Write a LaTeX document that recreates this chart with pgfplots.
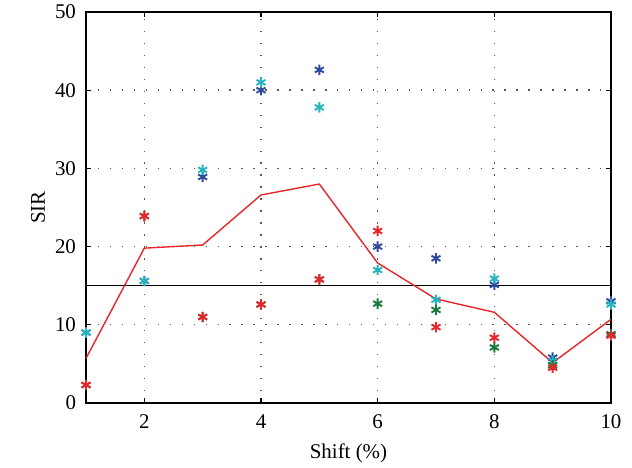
\documentclass[border=0pt]{standalone}
\usepackage{fontspec}
\setmainfont{Liberation Serif}
\usepackage{pgfplots}
\pgfplotsset{compat=1.18}
\definecolor{sred}{RGB}{232,38,42}
\definecolor{sblue}{RGB}{46,74,158}
\definecolor{scyan}{RGB}{38,181,192}
\definecolor{sgreen}{RGB}{26,122,58}
\begin{document}
\begin{tikzpicture}
\begin{axis}[
    name=main,
    scale only axis,
    width=262.5bp, height=195.5bp,
    xmin=1, xmax=10, ymin=0, ymax=50,
    xtick={2,4,6,8,10}, ytick={0,10,20,30,40,50},
    xlabel={Shift (\%)}, ylabel={SIR},
    xmajorgrids, ymajorgrids,
    grid style={black!65, dash pattern=on 0.7pt off 5.3pt, line width=0.7pt},
    tick align=inside,
    major tick length=2.5bp,
    axis line style={black, line width=0.6pt},
    tick style={black, line width=0.6pt},
    every tick label/.append style={font=\fontsize{10.5}{12}\selectfont},
    yticklabel style={xshift=-1.5bp},
    xticklabel style={yshift=-2.5bp},
    label style={font=\fontsize{10.5}{12}\selectfont},
    /pgf/number format/assume math mode=true,
    xlabel style={at={(rel axis cs:0.5,0)}, anchor=center, yshift=-25bp},
    ylabel style={at={(rel axis cs:0,0.5)}, anchor=center, yshift=24bp},
]
\addplot[sblue, only marks, mark=asterisk, mark size=2.6bp, line width=0.95pt] coordinates {
(1,9.0)(2,15.6)(3,28.9)(4,40.0)(5,42.6)(6,20.0)(7,18.5)(8,15.1)(9,5.8)(10,13.0)};
\addplot[scyan, only marks, mark=asterisk, mark size=2.6bp, line width=0.95pt] coordinates {
(1,9.0)(2,15.6)(3,29.8)(4,41.0)(5,37.8)(6,17.0)(7,13.2)(8,15.9)(9,5.4)(10,12.6)};
\addplot[sgreen, only marks, mark=asterisk, mark size=2.6bp, line width=0.95pt] coordinates {
(1,2.3)(2,23.9)(3,11.0)(4,12.6)(5,15.8)(6,12.7)(7,11.9)(8,7.1)(9,4.8)(10,8.8)};
\addplot[sred, only marks, mark=asterisk, mark size=2.6bp, line width=0.95pt] coordinates {
(1,2.3)(2,23.9)(3,11.0)(4,12.6)(5,15.8)(6,22.0)(7,9.7)(8,8.35)(9,4.5)(10,8.6)};
\addplot[black, line width=0.7pt, no marks] coordinates {(1,15)(10,15)};
\addplot[sred, line width=0.7pt, no marks] coordinates {
(1,5.7)(2,19.8)(3,20.2)(4,26.6)(5,28.0)(6,17.9)(7,13.3)(8,11.6)(9,5.15)(10,10.7)};
\end{axis}
\path (main.south west) ++(-43bp,-32.5bp) coordinate (bbA);
\path (main.north east) ++(10.5bp,6bp) coordinate (bbB);
\pgfresetboundingbox
\useasboundingbox (bbA) rectangle (bbB);
\end{tikzpicture}
\end{document}
